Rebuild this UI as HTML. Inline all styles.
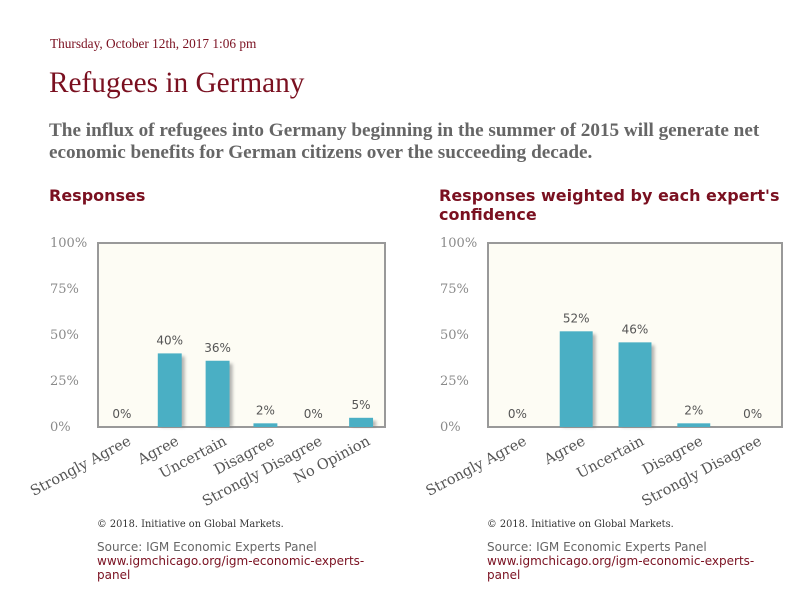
<!DOCTYPE html>
<html><head><meta charset="utf-8">
<style>
body{margin:0;background:#fff;width:792px;height:598px;position:relative;overflow:hidden}
.abs{position:absolute;margin:0}
.date{left:50px;top:36px;font:13.3px "Liberation Serif",serif;color:#7a1020}
h1{left:49px;top:67px;font:normal 29.3px "Liberation Serif",serif;color:#7a1020}
.q{left:49px;top:120px;width:740px;font:bold 19.2px/22px "Liberation Serif",serif;color:#666}
h2{font:bold 16px/19px "DejaVu Sans",sans-serif;color:#7a1020}
.copy{font:9.8px "DejaVu Serif",serif;color:#333}
.src{font:12px/14px "DejaVu Sans",sans-serif;color:#666}
.src a{color:#7a1020;text-decoration:none}
svg{position:absolute;left:0;top:0}
</style></head><body>
<p class="abs date">Thursday, October 12th, 2017 1:06 pm</p>
<h1 class="abs">Refugees in Germany</h1>
<p class="abs q">The influx of refugees into Germany beginning in the summer of 2015 will generate net economic benefits for German citizens over the succeeding decade.</p>
<h2 class="abs" style="left:49px;top:186px">Responses</h2>
<h2 class="abs" style="left:439px;top:186px;width:350px">Responses weighted by each expert's confidence</h2>
<svg width="792" height="598" id="charts">
<defs><filter id="sh" x="-20%" y="-20%" width="160%" height="140%"><feGaussianBlur stdDeviation="1.5"/></filter></defs>
</svg>
<p class="abs copy" style="left:97px;top:519px">© 2018. Initiative on Global Markets.</p>
<div class="abs src" style="left:97px;top:540px">Source: IGM Economic Experts Panel<br><a>www.igmchicago.org/igm-economic-experts-<br>panel</a></div>
<p class="abs copy" style="left:487px;top:519px">© 2018. Initiative on Global Markets.</p>
<div class="abs src" style="left:487px;top:540px">Source: IGM Economic Experts Panel<br><a>www.igmchicago.org/igm-economic-experts-<br>panel</a></div>
<script>
const categoriesLeft = ["Strongly Agree","Agree","Uncertain","Disagree","Strongly Disagree","No Opinion"];
const valuesLeft = [0,40,36,2,0,5];
const categoriesRight = ["Strongly Agree","Agree","Uncertain","Disagree","Strongly Disagree"];
const valuesRight = [0,52,46,2,0];
const yTicks = [0,25,50,75,100];
const yTickLabels = ["0%","25%","50%","75%","100%"];

const NS = "http://www.w3.org/2000/svg";
const svg = document.getElementById('charts');
function mk(tag, attrs, parent){
  const e = document.createElementNS(NS, tag);
  for (const k in attrs) e.setAttribute(k, attrs[k]);
  (parent||svg).appendChild(e); return e;
}
function chart(name, left, right, top, bottom, labelX, cats, vals, barFrac){
  const g = mk('g', {});
  
  
  const yScale = v => bottom - (v/100)*(bottom-top);
  const band = (right-left)/cats.length;
  const xCenter = i => left + band*(i+0.5);
  const frame = mk('rect', {x:left, y:top, width:right-left, height:bottom-top, fill:'#fdfcf4', stroke:'#999', 'stroke-width':2}, g);
  
  
  yTicks.forEach((t, i) => {
    const tx = mk('text', {x:labelX, y:yScale(t)+4, fill:'#8a8a8a', 'font-family':'DejaVu Serif, serif', 'font-size':13}, g);
    tx.textContent = yTickLabels[i];
    
    
  });
  const bw = band*barFrac;
  vals.forEach((v, i) => {
    const cx = xCenter(i), y = yScale(v), h = bottom - y;
    if (h > 0) {
      const s = mk('rect', {x:cx-bw/2+3, y:y+3, width:bw, height:Math.max(h-3,0), fill:'#777', opacity:0.55, filter:'url(#sh)'}, g);
      
      
      const b = mk('rect', {x:cx-bw/2, y:y, width:bw, height:h, fill:'#4aafc4'}, g);
      
      
    }
    const vl = mk('text', {x:cx, y:y-9, 'text-anchor':'middle', fill:'#555', 'font-family':'DejaVu Sans, sans-serif', 'font-size':12}, g);
    vl.textContent = v + '%';
    
    
    const cl = mk('text', {x:0, y:0, 'text-anchor':'end', fill:'#555', 'font-family':'DejaVu Serif, serif', 'font-size':14.5, transform:`translate(${cx+10},${bottom+17}) rotate(-28)`}, g);
    cl.textContent = cats[i];
    
    
  });
}
chart('responses-chart', 98, 385, 243, 427, 50, categoriesLeft, valuesLeft, 0.5);
chart('weighted-responses-chart', 488, 782, 243, 427, 440, categoriesRight, valuesRight, 0.56);
</script>
</body></html>
